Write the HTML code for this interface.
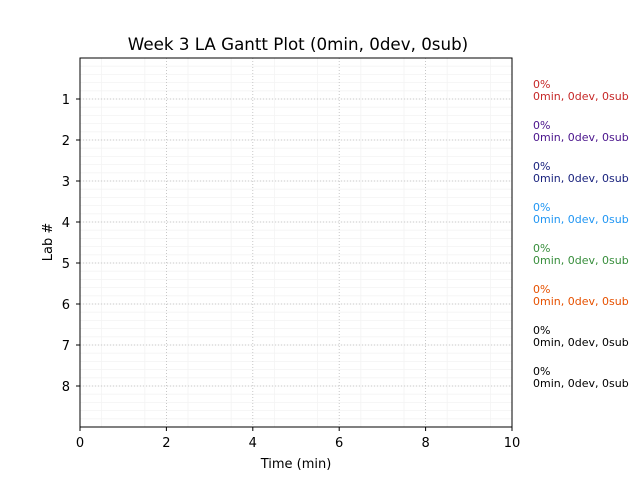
<!DOCTYPE html>
<html><head><style>body{margin:0;background:#fff}svg{display:block}</style></head><body>
<svg width="640" height="480" xmlns="http://www.w3.org/2000/svg" font-family="DejaVu Sans, Liberation Sans, sans-serif">
<rect width="640" height="480" fill="#fff"/>
<g stroke="#f3f3f3" stroke-width="0.8">
<path d="M101.6 58V427M144.8 58V427M188 58V427M231.2 58V427M274.4 58V427M317.6 58V427M360.8 58V427M404 58V427M447.2 58V427M490.4 58V427"/>
</g>
<g stroke="#f3f3f3" stroke-width="0.8" id="minorY"></g>
<g stroke="#bbb" stroke-width="0.8" stroke-dasharray="1,2">
<path d="M166.4 58V427M252.8 58V427M339.2 58V427M425.6 58V427"/>
<path d="M80 99H512M80 140H512M80 181H512M80 222H512M80 263H512M80 304H512M80 345H512M80 386H512"/>
</g>
<rect x="80" y="58" width="432" height="369" fill="none" stroke="#000" stroke-width="1"/>
<g stroke="#000"><path d="M80 427v4M166.4 427v4M252.8 427v4M339.2 427v4M425.6 427v4M512 427v4"/>
<path d="M80 99h-4M80 140h-4M80 181h-4M80 222h-4M80 263h-4M80 304h-4M80 345h-4M80 386h-4"/></g>
<g font-size="13" fill="#000" text-anchor="middle">
<text x="80" y="447">0</text><text x="166.4" y="447">2</text><text x="252.8" y="447">4</text><text x="339.2" y="447">6</text><text x="425.6" y="447">8</text><text x="512" y="447">10</text>
</g>
<g font-size="13" fill="#000" text-anchor="end">
<text x="70" y="104">1</text><text x="70" y="145">2</text><text x="70" y="186">3</text><text x="70" y="227">4</text><text x="70" y="268">5</text><text x="70" y="309">6</text><text x="70" y="350">7</text><text x="70" y="391">8</text>
</g>
<text x="296" y="468" font-size="13" text-anchor="middle">Time (min)</text>
<text x="52" y="242" font-size="13" text-anchor="middle" transform="rotate(-90 52 242)">Lab #</text>
<text x="298" y="50" font-size="16.7" text-anchor="middle">Week 3 LA Gantt Plot (0min, 0dev, 0sub)</text>
<g font-size="11">
<g fill="#c62828"><text x="533" y="88">0%</text><text x="533" y="100">0min, 0dev, 0sub</text></g>
<g fill="#4a148c"><text x="533" y="129">0%</text><text x="533" y="141">0min, 0dev, 0sub</text></g>
<g fill="#1a237e"><text x="533" y="170">0%</text><text x="533" y="182">0min, 0dev, 0sub</text></g>
<g fill="#2196f3"><text x="533" y="211">0%</text><text x="533" y="223">0min, 0dev, 0sub</text></g>
<g fill="#388e3c"><text x="533" y="252">0%</text><text x="533" y="264">0min, 0dev, 0sub</text></g>
<g fill="#e65100"><text x="533" y="293">0%</text><text x="533" y="305">0min, 0dev, 0sub</text></g>
<g fill="#000"><text x="533" y="334">0%</text><text x="533" y="346">0min, 0dev, 0sub</text></g>
<g fill="#000"><text x="533" y="375">0%</text><text x="533" y="387">0min, 0dev, 0sub</text></g>
</g>
</svg>
<script>
var g=document.getElementById('minorY'),d='';
for(var i=1;i<45;i++){var y=58+i*8.2;d+='M80 '+y.toFixed(1)+'H512';}
var p=document.createElementNS('http://www.w3.org/2000/svg','path');p.setAttribute('d',d);g.appendChild(p);
</script>
</body></html>
